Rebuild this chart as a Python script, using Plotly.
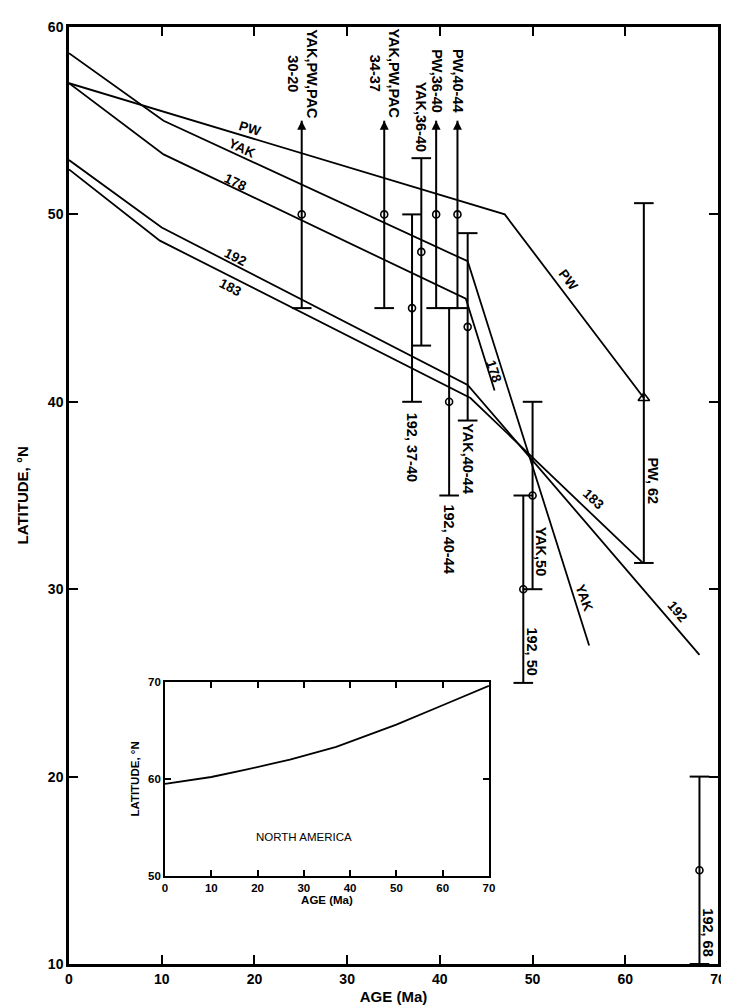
import plotly.graph_objects as go

# ---------------- data ----------------
pw_age = [0, 47, 62]
pw_lat = [57.0, 50.0, 40.2]
yak_age = [0, 10.2, 43, 56.1]
yak_lat = [58.6, 55.0, 47.5, 27.0]
l178_age = [0, 10.2, 42.8, 45.9]
l178_lat = [57.0, 53.2, 45.5, 40.6]
l192_age = [0, 10, 43, 68]
l192_lat = [52.9, 49.3, 40.9, 26.5]
l183_age = [0, 9.8, 43.3, 61.9]
l183_lat = [52.4, 48.6, 40.2, 31.4]

pole_names = ["YAK,PW,PAC<br>30-20", "YAK,PW,PAC<br>34-37", "192, 37-40", "YAK,36-40",
              "PW,36-40", "192, 40-44", "PW,40-44", "YAK,40-44", "192, 50", "YAK,50",
              "PW, 62", "192, 68"]
pole_age = [25.1, 34.0, 37.0, 38.0, 39.6, 41.0, 41.9, 43.0, 49.0, 50.0, 62.0, 68.0]
pole_lat = [50, 50, 45, 48, 50, 40, 50, 44, 30, 35, 40.2, 15]
pole_lo = [45, 45, 40, 43, 45, 35, 45, 39, 25, 30, 31.4, 10]
pole_hi = [55, 55, 50, 53, 55, 45, 55, 49, 35, 40, 50.6, 20]
pole_open_top = [True, True, False, False, True, False, True, False, False, False, False, False]
pole_triangle = [False] * 10 + [True, False]
# label placement (age, lat) of each pole label
pole_lab_x = [25.1, 34.0, 37.0, 38.0, 39.6, 41.0, 41.9, 43.0, 49.9, 50.9, 63.0, 68.9]
pole_lab_y = [57.5, 57.5, 37.6, 55.2, 57.1, 32.7, 57.1, 37.0, 26.7, 32.0, 35.8, 11.7]

line_labels = ["PW", "YAK", "178", "192", "183", "PW", "178", "183", "YAK", "192"]
line_lab_x = [19.5, 18.7, 18.0, 18.0, 17.4, 53.8, 45.8, 56.6, 55.6, 65.6]
line_lab_y = [54.6, 53.5, 51.7, 47.7, 46.1, 46.5, 41.6, 34.8, 29.5, 28.8]
line_lab_angle = [17, 25, 25, 27, 27, 53, 72, 43, 70, 50]

na_age = [0, 10, 17, 27, 37, 50, 60, 70]
na_lat = [59.5, 60.2, 60.9, 62.0, 63.3, 65.6, 67.6, 69.6]

FONT = "Liberation Sans, Arial, sans-serif"
LW = 1.8
BLACK = "black"

fig = go.Figure()

for ages, lats in [(pw_age, pw_lat), (yak_age, yak_lat), (l178_age, l178_lat),
                   (l192_age, l192_lat), (l183_age, l183_lat)]:
    fig.add_trace(go.Scatter(x=ages, y=lats, mode="lines",
                             line=dict(color=BLACK, width=LW), showlegend=False,
                             hoverinfo="skip"))

# error bar lines
bx, by = [], []
for a, lo, hi in zip(pole_age, pole_lo, pole_hi):
    bx += [a, a, None]
    by += [lo, hi, None]
fig.add_trace(go.Scatter(x=bx, y=by, mode="lines", line=dict(color=BLACK, width=2),
                         showlegend=False, hoverinfo="skip"))

# caps
cx, cy = [], []
for a, lo, hi, op in zip(pole_age, pole_lo, pole_hi, pole_open_top):
    cx.append(a); cy.append(lo)
    if not op:
        cx.append(a); cy.append(hi)
fig.add_trace(go.Scatter(x=cx, y=cy, mode="markers",
                         marker=dict(symbol="line-ew-open", size=14, color=BLACK,
                                     line=dict(color=BLACK, width=2)),
                         showlegend=False, hoverinfo="skip"))

# arrow heads
ax_ = [a for a, op in zip(pole_age, pole_open_top) if op]
ay_ = [h for h, op in zip(pole_hi, pole_open_top) if op]
fig.add_trace(go.Scatter(x=ax_, y=ay_, mode="markers",
                         marker=dict(symbol="arrow-up", size=9, color=BLACK,
                                     line=dict(width=0)),
                         showlegend=False, hoverinfo="skip"))

# pole points
px = [a for a, t in zip(pole_age, pole_triangle) if not t]
py = [l for l, t in zip(pole_lat, pole_triangle) if not t]
fig.add_trace(go.Scatter(x=px, y=py, mode="markers",
                         marker=dict(symbol="circle-open", size=7, color=BLACK,
                                     line=dict(color=BLACK, width=1.6)),
                         showlegend=False, hoverinfo="skip"))
tx = [a for a, t in zip(pole_age, pole_triangle) if t]
ty = [l for l, t in zip(pole_lat, pole_triangle) if t]
fig.add_trace(go.Scatter(x=tx, y=ty, mode="markers",
                         marker=dict(symbol="triangle-up-open", size=10, color=BLACK,
                                     line=dict(color=BLACK, width=1.6)),
                         showlegend=False, hoverinfo="skip"))

# inset
fig.add_trace(go.Scatter(x=na_age, y=na_lat, mode="lines", xaxis="x2", yaxis="y2",
                         line=dict(color=BLACK, width=LW), showlegend=False,
                         hoverinfo="skip"))

annotations = []
for name, x, y in zip(pole_names, pole_lab_x, pole_lab_y):
    annotations.append(dict(x=x, y=y, xref="x", yref="y", text=name, showarrow=False,
                            textangle=90, font=dict(family=FONT, size=14.5, color=BLACK,
                                                    weight="bold"),
                            align="center"))
for t, x, y, ang in zip(line_labels, line_lab_x, line_lab_y, line_lab_angle):
    annotations.append(dict(x=x, y=y, xref="x", yref="y", text=t, showarrow=False,
                            textangle=ang, font=dict(family=FONT, size=13.5, color=BLACK,
                                                     weight="bold")))
annotations.append(dict(x=30, y=54, xref="x2", yref="y2", text="NORTH AMERICA",
                        showarrow=False, font=dict(family=FONT, size=11.5, color=BLACK)))
# main y-axis title
annotations.append(dict(x=-0.071, y=0.5, xref="paper", yref="paper", text="LATITUDE, °N",
                        showarrow=False, textangle=-90, xanchor="center", yanchor="middle",
                        font=dict(family=FONT, size=15, color=BLACK, weight="bold")))

axis_common = dict(showgrid=False, zeroline=False, showline=True, linecolor=BLACK,
                   ticks="inside", mirror="ticks", tickcolor=BLACK)

fig.update_layout(
    width=729, height=1006,
    margin=dict(l=61, r=11, t=13, b=49),
    paper_bgcolor="white", plot_bgcolor="white",
    font=dict(family=FONT, color=BLACK),
    xaxis=dict(range=[0, 70], dtick=10, linewidth=2.5, ticklen=9, tickwidth=2,
               tickfont=dict(size=14, weight="bold"),
               title=dict(text="AGE (Ma)", font=dict(size=15, weight="bold"), standoff=6),
               **axis_common),
    yaxis=dict(range=[10, 60], dtick=10, linewidth=2.5, ticklen=9, tickwidth=2,
               tickfont=dict(size=14, weight="bold"),
               **axis_common),
    xaxis2=dict(domain=[0.148, 0.647], anchor="y2", range=[0, 70], dtick=10,
                linewidth=1.8, ticklen=6, tickwidth=1.5,
                tickfont=dict(size=11.5, weight="bold"),
                title=dict(text="AGE (Ma)", font=dict(size=11.5, weight="bold"), standoff=2),
                **axis_common),
    yaxis2=dict(domain=[0.094, 0.301], anchor="x2", range=[50, 70], dtick=10,
                linewidth=1.8, ticklen=6, tickwidth=1.5,
                tickfont=dict(size=11.5, weight="bold"),
                title=dict(text="LATITUDE, °N", font=dict(size=11.5, weight="bold"),
                           standoff=6),
                **axis_common),
    annotations=annotations,
)

fig.write_html("out.html")
